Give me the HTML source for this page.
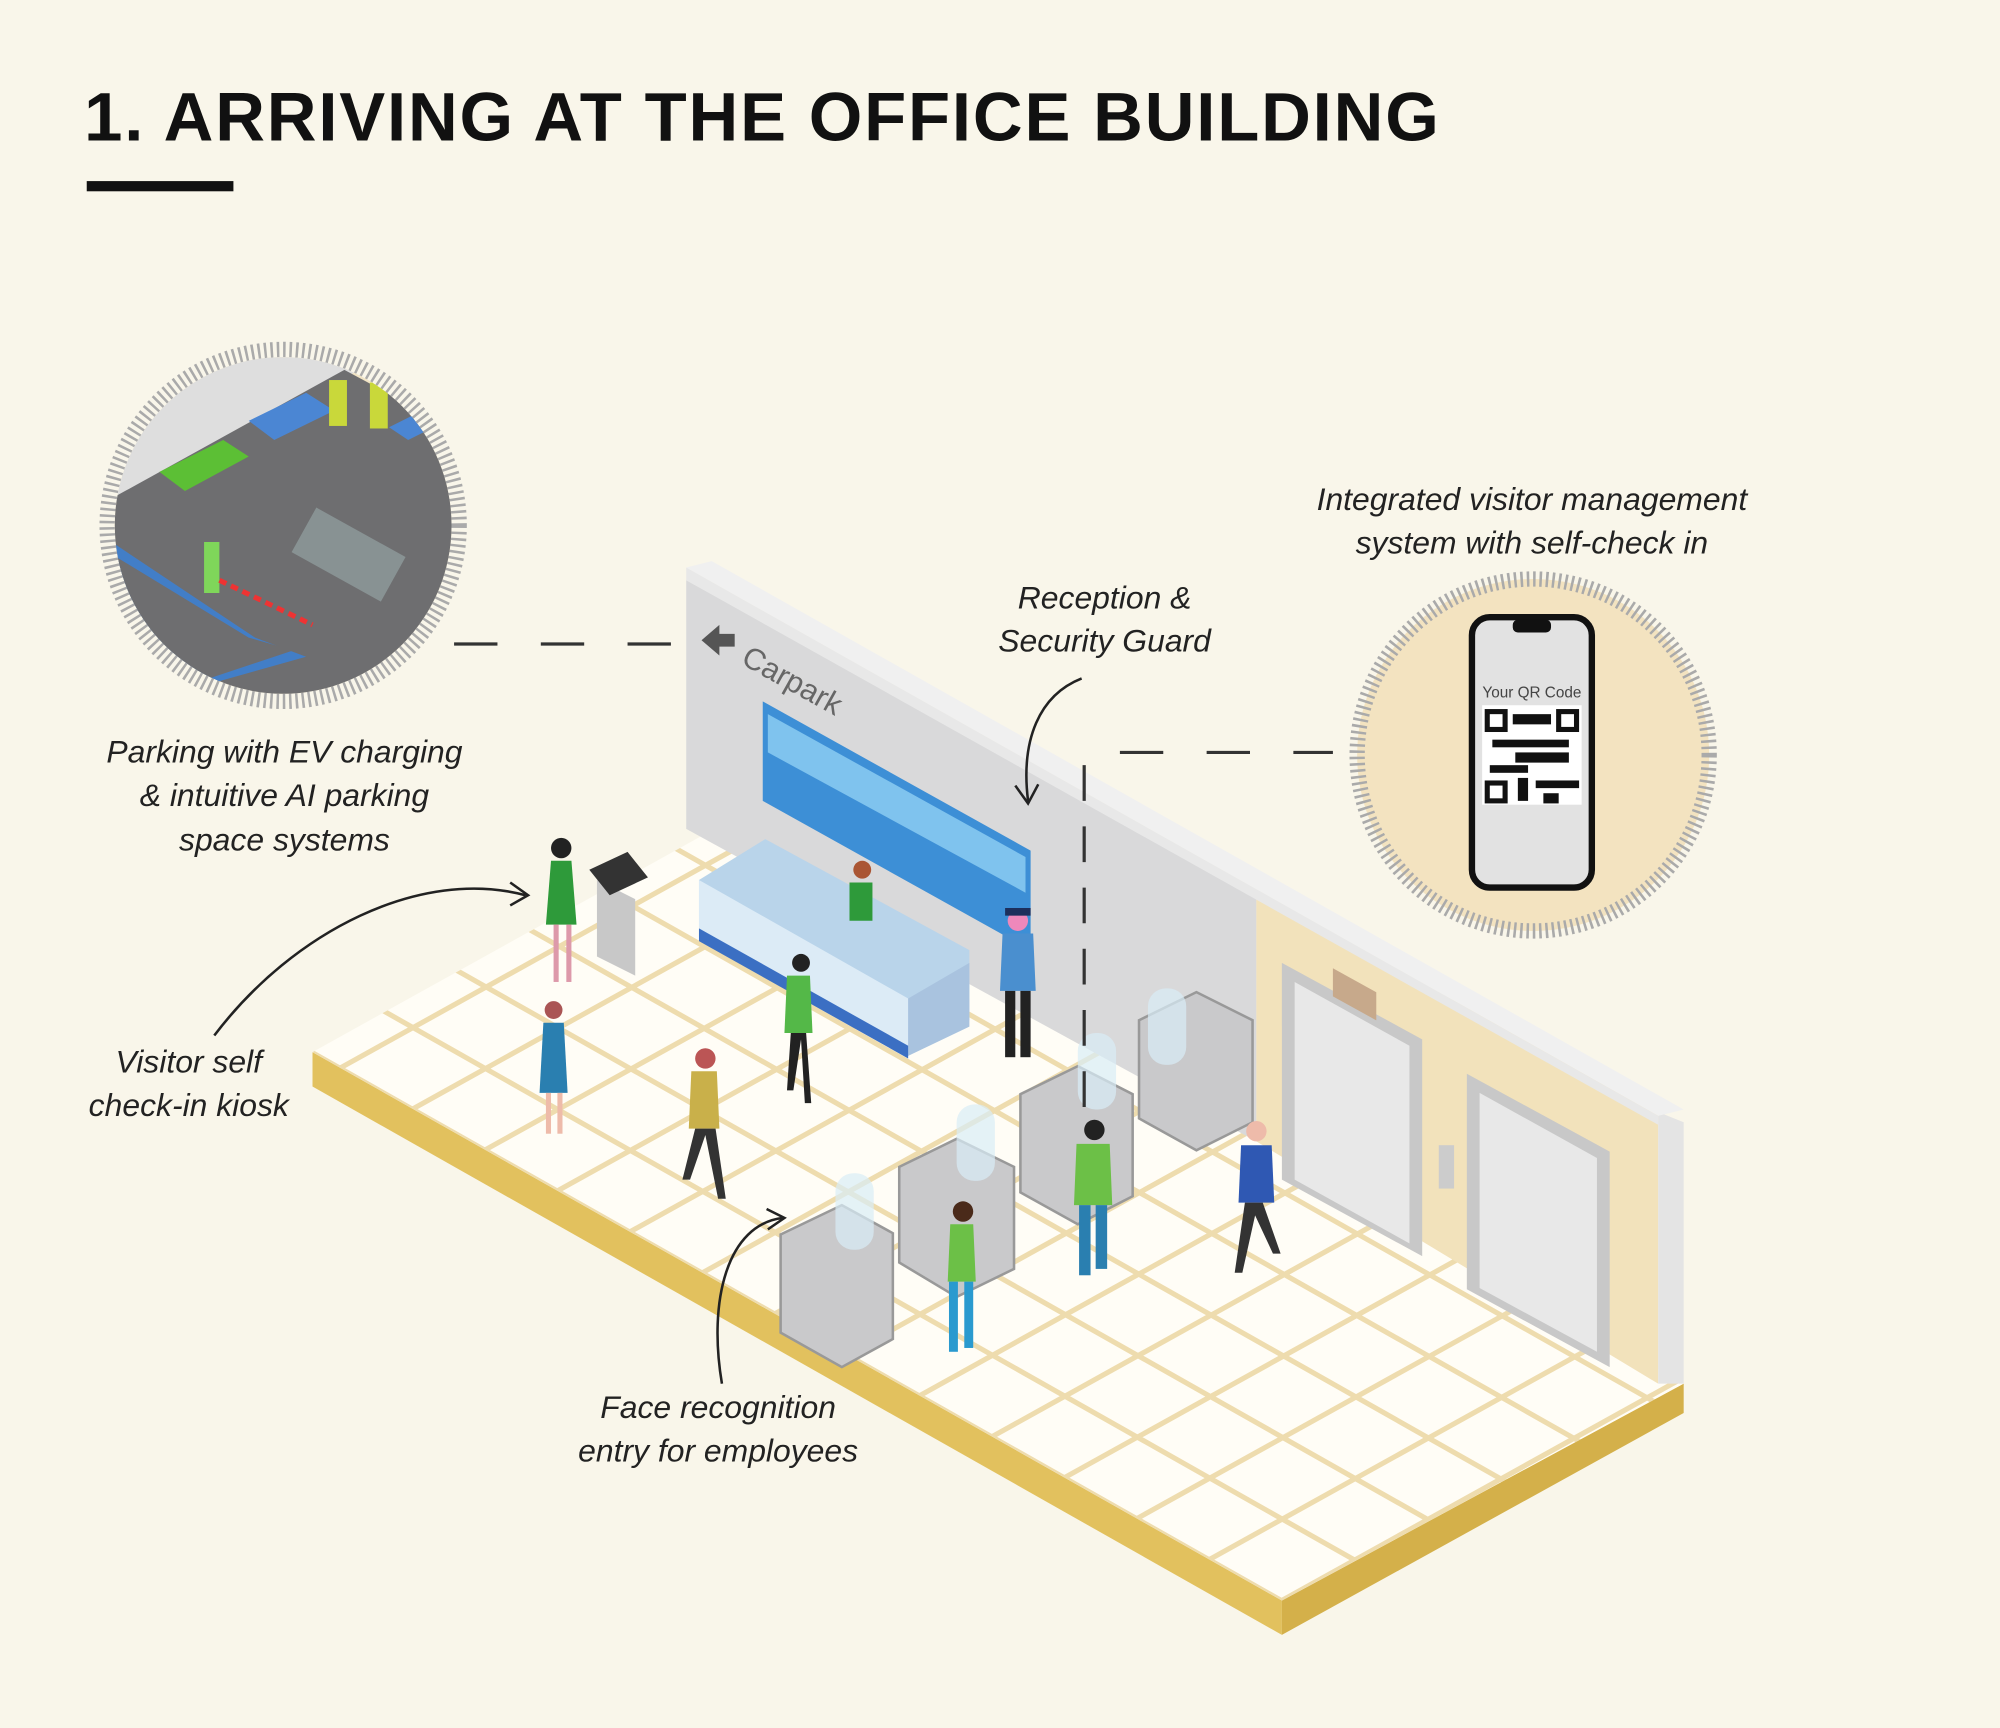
<!DOCTYPE html>
<html><head><meta charset="utf-8"><style>
html,body{margin:0;padding:0;background:#f9f6ea;width:2000px;height:1728px;overflow:hidden;}
svg{display:block}
.lbl{font-family:"Liberation Sans",sans-serif;font-style:italic;font-size:25px;fill:#222;text-anchor:middle}
</style></head><body>
<svg width="2000" height="1728" viewBox="0 0 1568 1355" preserveAspectRatio="none" xmlns="http://www.w3.org/2000/svg">
<defs>
<clipPath id="fl"><polygon points="245,825 560,650 1320,1085 1005,1255"/></clipPath>
<clipPath id="lc"><circle cx="222" cy="412" r="132"/></clipPath>
</defs>
<rect width="1568" height="1355" fill="#f9f6ea"/>
<text x="66" y="110" font-family="Liberation Sans,sans-serif" font-weight="bold" font-size="54" fill="#111" textLength="1062">1. ARRIVING AT THE OFFICE BUILDING</text>
<rect x="68" y="142" width="115" height="8" fill="#111"/>

<polygon points="245,825 1005,1255 1005,1282 245,852" fill="#e2c15e"/>
<polygon points="1005,1255 1320,1085 1320,1108 1005,1282" fill="#d4b04a"/>
<polygon points="245,825 560,650 1320,1085 1005,1255" fill="#fffdf6"/>
<g clip-path="url(#fl)" stroke="#eedcae" stroke-width="4">
<g id="g1"><line x1="200" y1="800" x2="1100" y2="1309"/></g>
<use href="#g1" transform="translate(57,-32)"/><use href="#g1" transform="translate(114,-64)"/><use href="#g1" transform="translate(171,-96)"/><use href="#g1" transform="translate(228,-128)"/><use href="#g1" transform="translate(285,-160)"/><use href="#g1" transform="translate(342,-192)"/><use href="#g1" transform="translate(399,-224)"/>
<g id="g2"><line x1="100" y1="930" x2="700" y2="597"/></g>
<use href="#g2" transform="translate(57,32)"/><use href="#g2" transform="translate(114,64)"/><use href="#g2" transform="translate(171,96)"/><use href="#g2" transform="translate(228,128)"/><use href="#g2" transform="translate(285,160)"/><use href="#g2" transform="translate(342,192)"/><use href="#g2" transform="translate(399,224)"/><use href="#g2" transform="translate(456,256)"/><use href="#g2" transform="translate(513,288)"/><use href="#g2" transform="translate(570,320)"/><use href="#g2" transform="translate(627,352)"/><use href="#g2" transform="translate(684,384)"/><use href="#g2" transform="translate(741,416)"/><use href="#g2" transform="translate(798,448)"/><use href="#g2" transform="translate(855,480)"/><use href="#g2" transform="translate(912,512)"/>
</g>

<polygon points="538,455 985,700 985,895 538,650" fill="#d9d9da"/>
<polygon points="985,700 1300,872 1300,1085 985,895" fill="#f2e2bb"/>
<polygon points="1300,872 1320,880 1320,1085 1300,1085" fill="#e4e4e4"/>
<polygon points="538,445 558,440 1320,870 1300,875" fill="#f0f0f0"/>
<polygon points="538,445 1300,875 1300,882 538,455" fill="#e8e8e8"/>
<polygon points="598,550 808,667 808,745 598,628" fill="#3d8fd6"/>
<polygon points="602,560 804,672 804,700 602,590" fill="#7fc3ee"/>
<text x="580" y="520" transform="rotate(29 580 520)" font-family="Liberation Sans,sans-serif" font-size="24" fill="#666">Carpark</text>
<path d="M550,502 l14,-12 v7 h12 v10 h-12 v7z" fill="#555"/>
<polygon points="1005,755 1115,815 1115,985 1005,925" fill="#c8c8c8"/>
<polygon points="1015,770 1105,820 1105,975 1015,925" fill="#e8e8e8"/>
<polygon points="1150,842 1262,903 1262,1072 1150,1011" fill="#c8c8c8"/>
<polygon points="1160,857 1252,908 1252,1060 1160,1010" fill="#e8e8e8"/>
<rect x="1045" y="755" width="34" height="22" fill="#c7a98b" transform="skewY(29) translate(0,-575)"/>
<rect x="1128" y="898" width="12" height="34" fill="#ccc"/>
<polygon points="548,690 600,658 760,745 760,800 712,828 548,735" fill="#b9d4ea"/>
<polygon points="548,690 712,783 712,828 548,735" fill="#dcebf6"/>
<polygon points="712,783 760,755 760,805 712,828" fill="#a9c3df"/>
<polygon points="548,728 712,820 712,830 548,738" fill="#3b6fc3"/>
<g fill="#c9c9cb" stroke="#999" stroke-width="2">
<polygon points="612,968 660,945 700,967 700,1050 660,1072 612,1045"/>
<polygon points="705,915 750,893 795,915 795,995 750,1017 705,990"/>
<polygon points="800,858 845,836 888,858 888,938 845,960 800,935"/>
<polygon points="893,800 938,778 982,800 982,880 938,902 893,877"/>
</g>
<g fill="#d9ecf7" opacity="0.7">
<rect x="655" y="920" width="30" height="60" rx="14"/><rect x="750" y="866" width="30" height="60" rx="14"/><rect x="845" y="810" width="30" height="60" rx="14"/><rect x="900" y="775" width="30" height="60" rx="14"/>
</g>
<polygon points="468,690 498,705 498,765 468,750" fill="#c8c8c8"/>
<polygon points="462,682 492,668 508,688 478,702" fill="#333"/>
<g>
<circle cx="440" cy="665" r="8" fill="#222"/><path d="M432,675 h16 l4,50 h-24z" fill="#2e9a3a"/><rect x="434" y="725" width="4" height="45" fill="#d9a"/><rect x="444" y="725" width="4" height="45" fill="#d9a"/>
<circle cx="434" cy="792" r="7" fill="#a55"/><path d="M426,802 h16 l3,55 h-22z" fill="#2a7fb0"/><rect x="428" y="857" width="4" height="32" fill="#eba"/><rect x="437" y="857" width="4" height="32" fill="#eba"/>
<circle cx="553" cy="830" r="8" fill="#b55"/><path d="M542,840 h20 l2,45 h-24z" fill="#c9b04a"/><path d="M545,885 l-10,40 h6 l12,-35 l10,50 h6 l-8,-55z" fill="#333"/>
<circle cx="628" cy="755" r="7" fill="#222"/><path d="M617,765 h18 l2,45 h-22z" fill="#54b848"/><path d="M620,810 l-3,45 h5 l6,-40 l3,50 h5 l-4,-55z" fill="#222"/>
<circle cx="676" cy="682" r="7" fill="#a53"/><path d="M666,692 h18 v30 h-18z" fill="#2e9a3a"/>
<circle cx="798" cy="722" r="8" fill="#e8b"/><rect x="788" y="712" width="20" height="6" fill="#1d2f5c"/><path d="M786,732 h24 l2,45 h-28z" fill="#4a8fcf"/><rect x="788" y="777" width="8" height="52" fill="#222"/><rect x="800" y="777" width="8" height="52" fill="#222"/>
<circle cx="858" cy="886" r="8" fill="#222"/><path d="M844,897 h26 l2,48 h-30z" fill="#6cc047"/><rect x="846" y="945" width="9" height="55" fill="#2a7fb0"/><rect x="859" y="945" width="9" height="50" fill="#2a7fb0"/>
<circle cx="755" cy="950" r="8" fill="#4a2a1a"/><path d="M745,960 h18 l2,45 h-22z" fill="#6cc047"/><rect x="744" y="1005" width="7" height="55" fill="#2a9acf"/><rect x="756" y="1005" width="7" height="52" fill="#2a9acf"/>
<circle cx="985" cy="887" r="8" fill="#eba"/><path d="M973,898 h24 l2,45 h-28z" fill="#2f58b3"/><path d="M976,943 l-8,55 h6 l10,-45 l14,30 h6 l-14,-40z" fill="#333"/>
</g>

<circle cx="222" cy="412" r="138" fill="none" stroke="#aaa" stroke-width="12" stroke-dasharray="2 3"/>
<g clip-path="url(#lc)">
<rect x="80" y="270" width="300" height="300" fill="#f1e4c5"/>
<polygon points="80,280 300,280 80,400" fill="#dedede"/>
<polygon points="80,395 270,290 400,360 400,560 200,560 80,470" fill="#6e6e70"/>
<polygon points="80,420 200,500 240,515 80,560" fill="#3d7fd0" opacity="0.9"/>
<polygon points="80,430 195,500 230,510 80,560" fill="#6e6e70"/>
<polygon points="125,370 175,345 195,358 145,385" fill="#5cbf35"/>
<polygon points="195,330 240,308 262,322 215,345" fill="#4b86d3"/>
<polygon points="305,335 335,320 350,330 320,345" fill="#4b86d3"/>
<rect x="258" y="298" width="14" height="36" fill="#c9d83a"/><rect x="290" y="300" width="14" height="36" fill="#c9d83a"/>
<rect x="160" y="425" width="12" height="40" fill="#7fd65a"/>
<line x1="172" y1="455" x2="245" y2="490" stroke="#e33" stroke-width="4" stroke-dasharray="6 4"/>
<rect x="248" y="398" width="80" height="40" fill="#9aa" opacity="0.6" transform="rotate(29 248 398)"/>
</g>
<circle cx="1202" cy="592" r="138" fill="#f3e3c0" stroke="#aaa" stroke-width="12" stroke-dasharray="2 3"/>
<rect x="1154" y="484" width="94" height="212" rx="14" fill="#e2e2e2" stroke="#111" stroke-width="5"/>
<rect x="1186" y="486" width="30" height="10" rx="4" fill="#111"/>
<text x="1201" y="547" font-family="Liberation Sans,sans-serif" font-size="12" fill="#444" text-anchor="middle">Your QR Code</text>
<rect x="1162" y="553" width="78" height="78" fill="#fff"/>
<g fill="#111">
<rect x="1164" y="556" width="18" height="18"/><rect x="1220" y="556" width="18" height="18"/><rect x="1164" y="612" width="18" height="18"/>
<rect x="1186" y="560" width="30" height="8"/><rect x="1170" y="580" width="60" height="6"/><rect x="1188" y="590" width="42" height="8"/><rect x="1168" y="600" width="30" height="6"/><rect x="1190" y="610" width="8" height="18"/><rect x="1204" y="612" width="34" height="6"/><rect x="1210" y="622" width="12" height="8"/>
</g>
<g fill="#fff"><rect x="1168" y="560" width="10" height="10"/><rect x="1224" y="560" width="10" height="10"/><rect x="1168" y="616" width="10" height="10"/></g>

<g stroke="#333" stroke-width="2.5" stroke-dasharray="34 34" fill="none">
<line x1="356" y1="505" x2="530" y2="505"/>
<line x1="878" y1="590" x2="1045" y2="590"/>
<line x1="850" y1="600" x2="850" y2="870" stroke-dasharray="28 20"/>
</g>
<g stroke="#222" stroke-width="2" fill="none">
<path d="M168,812 C230,730 330,680 412,702"/><path d="M400,692 l14,10 l-14,8"/>
<path d="M848,532 C815,545 800,580 806,628"/><path d="M796,616 l10,14 l8,-15"/>
<path d="M566,1085 C555,1020 570,960 614,955"/><path d="M601,948 l14,7 l-13,9"/>
</g>
<text class="lbl" x="223" y="598">Parking with EV charging</text>
<text class="lbl" x="223" y="632">&amp; intuitive AI parking</text>
<text class="lbl" x="223" y="667">space systems</text>
<text class="lbl" x="1201" y="400">Integrated visitor management</text>
<text class="lbl" x="1201" y="434">system with self-check in</text>
<text class="lbl" x="866" y="477">Reception &amp;</text>
<text class="lbl" x="866" y="511">Security Guard</text>
<text class="lbl" x="148" y="841">Visitor self</text>
<text class="lbl" x="148" y="875">check-in kiosk</text>
<text class="lbl" x="563" y="1112">Face recognition</text>
<text class="lbl" x="563" y="1146">entry for employees</text>
</svg>
</body></html>
